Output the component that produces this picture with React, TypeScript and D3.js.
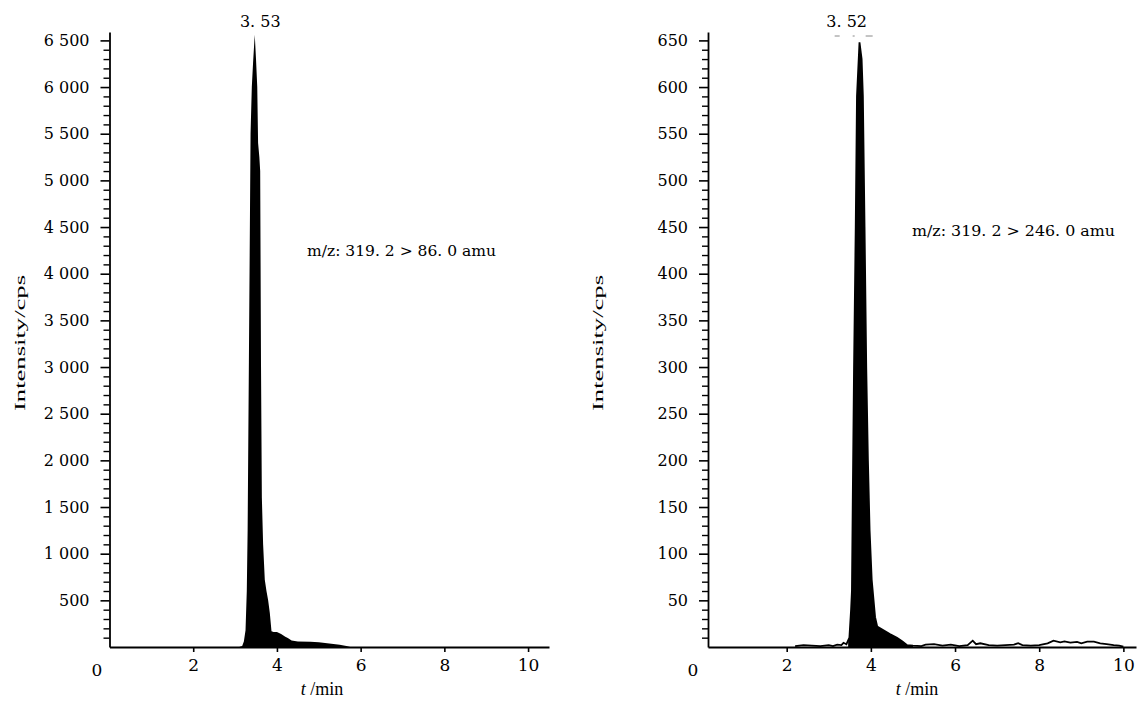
import React, { useEffect, useRef } from "react";
import * as d3 from "d3";

// left chromatogram, m/z 319.2 > 86.0
const leftTime = [0, 3.1, 3.17, 3.21, 3.25, 3.28, 3.3, 3.33, 3.37, 3.4, 3.43, 3.47, 3.5, 3.53, 3.55, 3.58, 3.6, 3.62, 3.64, 3.67, 3.71, 3.75, 3.79, 3.83, 3.87, 3.92, 4.0, 4.1, 4.2, 4.26, 4.35, 4.5, 4.8, 5.0, 5.3, 5.5, 5.66, 5.75, 10.5];
const leftIntensity = [0, 0, 10, 60, 180, 600, 1250, 3050, 5500, 6000, 6260, 6560, 6300, 6000, 5400, 5250, 5100, 3000, 1600, 1100, 720, 600, 500, 365, 170, 160, 160, 140, 110, 96, 70, 60, 57, 50, 35, 25, 10, 0, 0];

// right chromatogram, m/z 319.2 > 246.0
const rightTime = [2.2, 2.4, 2.6, 2.8, 3.0, 3.1, 3.2, 3.3, 3.35, 3.42, 3.46, 3.49, 3.53, 3.55, 3.57, 3.6, 3.64, 3.67, 3.73, 3.78, 3.81, 3.85, 3.89, 3.93, 3.97, 4.02, 4.1, 4.15, 4.3, 4.45, 4.62, 4.75, 4.86, 5.0, 5.2, 5.3, 5.5, 5.7, 5.9, 6.1, 6.3, 6.42, 6.5, 6.6, 6.8, 7.0, 7.2, 7.4, 7.5, 7.6, 7.8, 8.0, 8.2, 8.34, 8.5, 8.6, 8.74, 8.9, 9.0, 9.14, 9.3, 9.45, 9.6, 9.77, 9.9, 10.0];
const rightIntensity = [1, 2, 1.5, 1, 2, 1, 2.5, 2, 4.5, 3, 7, 10, 40, 60, 160, 300, 450, 590, 648, 630, 590, 450, 300, 200, 125, 72, 32, 22, 18, 14, 10, 6, 2, 1.5, 1, 2.5, 3, 1.5, 2.5, 1, 2, 6.8, 3, 4, 2, 1.5, 2, 2.5, 4, 2, 1.5, 2, 4, 6.8, 5, 6, 4.6, 5.5, 4, 5.7, 5.7, 4, 3, 2, 1.5, 0.5];

const xTickValues = [2, 4, 6, 8, 10];
const leftYTicks = [500, 1000, 1500, 2000, 2500, 3000, 3500, 4000, 4500, 5000, 5500, 6000, 6500];
const rightYTicks = [50, 100, 150, 200, 250, 300, 350, 400, 450, 500, 550, 600, 650];

const panels = [
  {
    time: leftTime,
    intensity: leftIntensity,
    yTicks: leftYTicks,
    minorStep: 100,
    xDomain: [0, 10.5],
    xRange: [109.5, 549],
    yMax: 6590,
    peakLabel: "3. 53",
    peakTime: 3.53,
    peakWindow: [0, 10.5],
    transition: "m/z: 319. 2 > 86. 0 amu",
    transitionPos: [307, 256, 189],
    yLabelX: 20,
    zeroX: 97,
    xLabelCenter: 322,
    trace: false,
  },
  {
    time: rightTime,
    intensity: rightIntensity,
    yTicks: rightYTicks,
    minorStep: 10,
    xDomain: [0.13, 10.3],
    xRange: [708, 1136],
    yMax: 659,
    peakLabel: "3. 52",
    peakTime: 3.52,
    peakWindow: [3.46, 5.0],
    transition: "m/z: 319. 2 > 246. 0 amu",
    transitionPos: [912, 236, 203],
    yLabelX: 598,
    zeroX: 693,
    xLabelCenter: 917,
    trace: true,
  },
];

const fmt = d3.formatLocale({ decimal: ".", thousands: " ", grouping: [3], currency: ["", ""] }).format(",");

const App = () => {
  const svgRef = useRef(null);
  const width = 1137;
  const height = 705;
  const base = 647;
  const top = 32;

  useEffect(() => {
    const svgEl = d3.select(svgRef.current);
    svgEl.selectAll("*").remove();

    panels.forEach((p) => {
      const g = svgEl.append("g");
      const x = d3.scaleLinear().domain(p.xDomain).range(p.xRange);
      const y = d3.scaleLinear().domain([0, p.yMax]).range([base, top]);
      const pts = p.time.map((t, i) => [t, p.intensity[i]]);

      // filled peak
      const peakPts = pts.filter((d) => d[0] >= p.peakWindow[0] && d[0] <= p.peakWindow[1]);
      const area = d3
        .area()
        .x((d) => x(d[0]))
        .y0(y(0))
        .y1((d) => y(d[1]));
      g.append("path").attr("d", area(peakPts)).attr("fill", "#000");

      if (p.trace) {
        const line = d3
          .line()
          .x((d) => x(d[0]))
          .y((d) => y(d[1]));
        g.append("path")
          .attr("d", line(pts))
          .attr("fill", "none")
          .attr("stroke", "#000")
          .attr("stroke-width", 1.8);
      }

      // y axis
      const minor = d3.range(p.minorStep, p.yMax, p.minorStep).filter((v) => !p.yTicks.includes(v));
      g.append("g")
        .attr("transform", `translate(${p.xRange[0]},0)`)
        .call(d3.axisLeft(y).tickValues(minor).tickSize(6).tickFormat(() => ""))
        .call((a) => a.select(".domain").remove())
        .call((a) => a.selectAll("line").attr("stroke-width", 1.4));
      g.append("g")
        .attr("transform", `translate(${p.xRange[0]},0)`)
        .call(d3.axisLeft(y).tickValues(p.yTicks).tickSize(9).tickSizeOuter(0).tickPadding(11).tickFormat(fmt))
        .call((a) => a.select(".domain").attr("stroke-width", 1.8))
        .call((a) => a.selectAll("line").attr("stroke-width", 1.6))
        .call((a) =>
          a.selectAll("text").attr("font-family", "DejaVu Serif").attr("font-size", 16).attr("fill", "#000")
        );

      // x axis
      g.append("g")
        .attr("transform", `translate(0,${base})`)
        .call(d3.axisBottom(x).tickValues(xTickValues).tickSize(5).tickSizeOuter(0).tickPadding(7).tickFormat(d3.format("d")))
        .call((a) => a.select(".domain").attr("stroke-width", 1.8))
        .call((a) => a.selectAll("line").attr("stroke-width", 1.6))
        .call((a) =>
          a.selectAll("text").attr("font-family", "DejaVu Serif").attr("font-size", 17).attr("fill", "#000")
        );

      g.append("text")
        .attr("x", p.zeroX)
        .attr("y", 676)
        .attr("text-anchor", "middle")
        .attr("font-family", "DejaVu Serif")
        .attr("font-size", 17)
        .text("0");

      // axis titles
      const xt = g
        .append("text")
        .attr("x", p.xLabelCenter)
        .attr("y", 695)
        .attr("text-anchor", "middle")
        .attr("font-family", "Liberation Serif")
        .attr("font-size", 18);
      xt.append("tspan").attr("font-style", "italic").text("t");
      xt.append("tspan").text(" /min");

      g.append("text")
        .attr("transform", `translate(${p.yLabelX},343) rotate(-90)`)
        .attr("text-anchor", "middle")
        .attr("dy", "0.35em")
        .attr("font-family", "Liberation Serif")
        .attr("font-size", 15)
        .attr("textLength", 136)
        .attr("lengthAdjust", "spacingAndGlyphs")
        .text("Intensity/cps");

      // retention time label
      g.append("text")
        .attr("x", x(p.peakTime) + (p.trace ? -4 : 3))
        .attr("y", 27)
        .attr("text-anchor", "middle")
        .attr("font-family", "DejaVu Serif")
        .attr("font-size", 16)
        .text(p.peakLabel);

      // transition annotation
      g.append("text")
        .attr("x", p.transitionPos[0])
        .attr("y", p.transitionPos[1])
        .attr("textLength", p.transitionPos[2])
        .attr("lengthAdjust", "spacingAndGlyphs")
        .attr("font-family", "DejaVu Serif")
        .attr("font-size", 15)
        .text(p.transition);

      if (p.trace) {
        g.append("line")
          .attr("x1", x(p.peakTime) - 16)
          .attr("x2", x(p.peakTime) + 23)
          .attr("y1", 36)
          .attr("y2", 36)
          .attr("stroke", "#888")
          .attr("stroke-width", 1)
          .attr("stroke-dasharray", "5,13,2,11,7");
      }
    });
  }, []);

  return (
    <svg
      ref={svgRef}
      width={width}
      height={height}
      style={{ position: "absolute", left: 0, top: 0, background: "#fff" }}
    />
  );
};

export default App;
